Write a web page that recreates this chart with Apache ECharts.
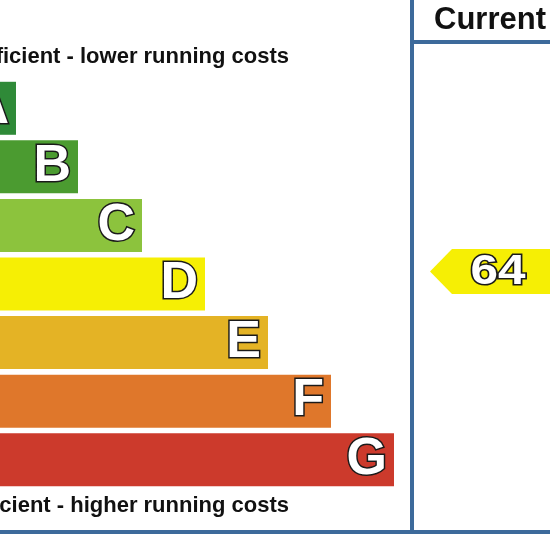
<!DOCTYPE html>
<html>
<head>
<meta charset="utf-8">
<script src="https://cdn.jsdelivr.net/npm/echarts@6/dist/echarts.min.js"></script>
<style>
  html, body { margin: 0; padding: 0; background: #fff; }
  #chart { width: 550px; height: 550px; }
</style>
</head>
<body>
<div id="chart"></div>
<script>
// rating bands, top to bottom
const bands = ['A', 'B', 'C', 'D', 'E', 'F', 'G']
// visible bar length of each band (the picture is cropped on the left)
const barLength = [16, 78, 142, 205, 268, 331, 394]
const bandColors = ['#2f8a38', '#4b9b30', '#8cc33d', '#f6ef04', '#e4b325', '#df772b', '#cc3a2c']
// score range of each band
const bandMin = [92, 81, 69, 55, 39, 21, 1]
const bandMax = [100, 91, 80, 68, 54, 38, 20]
// current rating
const currentScore = 64
const currentBand = 'D'

const blue = '#3d6a9b'
const font = '"Liberation Sans", Arial, sans-serif'

let myChart = echarts.init(document.getElementById('chart'))

myChart.setOption({
  animation: false,
  grid: {
    left: 0,
    right: 0,
    top: 79,
    height: 410
  },
  xAxis: {
    type: 'value',
    min: 0,
    max: 550,
    show: false
  },
  yAxis: {
    type: 'category',
    data: bands,
    inverse: true,
    show: false
  },
  series: [
    {
      type: 'bar',
      barWidth: 53,
      data: barLength.map((v, i) => ({
        value: v,
        itemStyle: { color: bandColors[i] }
      })),
      label: {
        show: true,
        position: 'insideRight',
        distance: 7,
        formatter: '{b}',
        color: '#fff',
        fontFamily: font,
        fontWeight: 'bold',
        fontSize: 52,
        textBorderColor: '#1a1a1a',
        textBorderWidth: 3
      }
    },
    {
      // the "current" arrow, placed inside its band by score
      type: 'custom',
      data: [[0, currentBand, currentScore]],
      renderItem: function (params, api) {
        let idx = bands.indexOf(currentBand)
        let center = api.coord([0, currentBand])[1]
        let pitch = api.size([0, 1])[1]
        let top = center - pitch / 2
        let frac = (bandMax[idx] - api.value(2)) / (bandMax[idx] - bandMin[idx] + 1)
        let y = top + frac * pitch
        let h = 22.5
        return {
          type: 'group',
          children: [
            {
              type: 'polygon',
              shape: {
                points: [[430, y], [452, y - h], [560, y - h], [560, y + h], [452, y + h]]
              },
              style: { fill: bandColors[idx] }
            },
            {
              type: 'text',
              x: 498,
              y: y,
              scaleX: 1.15,
              style: {
                text: String(api.value(2)),
                x: 0,
                y: 1,
                textAlign: 'center',
                textVerticalAlign: 'middle',
                fill: '#fff',
                font: 'bold 43px ' + font,
                stroke: '#1a1a1a',
                lineWidth: 3
              }
            }
          ]
        }
      }
    }
  ],
  graphic: [
    {
      type: 'text',
      style: {
        text: 'Very energy efficient - lower running costs',
        x: 289,
        y: 57,
        textAlign: 'right',
        textVerticalAlign: 'middle',
        font: 'bold 22px ' + font,
        fill: '#111'
      }
    },
    {
      type: 'text',
      style: {
        text: 'Not energy efficient - higher running costs',
        x: 289,
        y: 506,
        textAlign: 'right',
        textVerticalAlign: 'middle',
        font: 'bold 22px ' + font,
        fill: '#111'
      }
    },
    {
      type: 'text',
      style: {
        text: 'Current',
        x: 434,
        y: 20,
        textAlign: 'left',
        textVerticalAlign: 'middle',
        font: 'bold 31px ' + font,
        fill: '#111'
      }
    },
    {
      type: 'line',
      shape: { x1: 412, y1: 0, x2: 412, y2: 534 },
      style: { stroke: blue, lineWidth: 4 }
    },
    {
      type: 'line',
      shape: { x1: 410, y1: 42, x2: 550, y2: 42 },
      style: { stroke: blue, lineWidth: 4 }
    },
    {
      type: 'line',
      shape: { x1: 0, y1: 532, x2: 550, y2: 532 },
      style: { stroke: blue, lineWidth: 4 }
    }
  ]
})
</script>
</body>
</html>
